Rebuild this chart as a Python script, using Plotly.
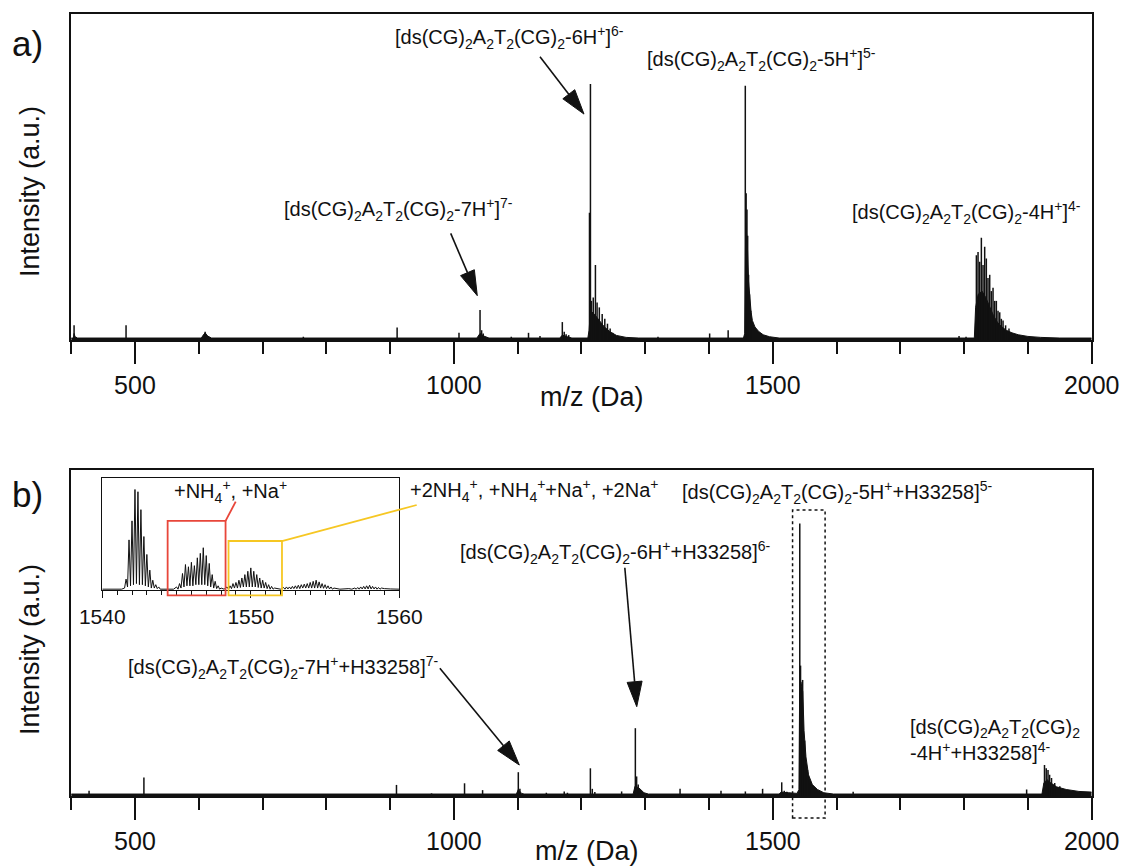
import math
import plotly.graph_objects as go

W, H = 1125, 867
FONT = "Liberation Sans, Arial, Helvetica, sans-serif"
INK = "#111111"
RED = "#e8463a"
GOLD = "#f6c723"

# ---------------- panel a: free duplex ----------------
a_stick_mz = [404.5, 486, 610, 764, 911, 1008, 1041, 1043.5, 1046, 1090, 1117, 1135,
              1170, 1173, 1176, 1180, 1212.6, 1214.1, 1215.6, 1218.5, 1221.9, 1224.5,
              1228, 1232.5, 1236.6, 1240.8, 1245, 1249, 1320, 1401, 1430, 1456.9,
              1458.2, 1459.5, 1460.6, 1462, 1463.5, 1465.5, 1792, 1803, 1819.2, 1821.8,
              1824.4, 1827, 1829.6, 1832.2, 1834.8, 1837.4, 1840.1, 1842.6, 1845.3,
              1847.9, 1850.5, 1853.1, 1855.8, 1858.3, 1861, 1865, 1870.3]
a_stick_int = [0.045, 0.045, 0.025, 0.01, 0.038, 0.022, 0.092, 0.03, 0.02, 0.01, 0.022, 0.012,
               0.055, 0.025, 0.018, 0.015, 0.39, 0.785, 0.12, 0.13, 0.23, 0.115,
               0.10, 0.08, 0.065, 0.05, 0.035, 0.022, 0.01, 0.02, 0.03, 0.78,
               0.45, 0.40, 0.32, 0.20, 0.14, 0.09, 0.012, 0.01, 0.26, 0.27,
               0.24, 0.314, 0.23, 0.286, 0.25, 0.19, 0.20, 0.15, 0.16,
               0.12, 0.12, 0.09, 0.085, 0.065, 0.06, 0.045, 0.035]

a_env_mz = [400, 403.5, 404.5, 406, 410, 604, 607, 610, 614, 620, 1036, 1041, 1047, 1055,
            1166, 1170, 1178, 1185, 1210, 1212, 1214, 1220, 1228, 1236, 1245, 1255, 1270,
            1290, 1454, 1456, 1457.5, 1460, 1462, 1464, 1466, 1468, 1472, 1478, 1485,
            1495, 1510, 1816, 1818, 1822, 1828, 1834, 1840, 1846, 1852, 1858, 1866, 1875,
            1885, 1900, 1920, 1950, 2000]
a_env_int = [0.006, 0.006, 0.02, 0.01, 0.006, 0.006, 0.015, 0.022, 0.012, 0.006, 0.006, 0.02,
             0.012, 0.006, 0.006, 0.015, 0.01, 0.006, 0.006, 0.03, 0.09, 0.08, 0.06, 0.04,
             0.025, 0.014, 0.008, 0.006, 0.006, 0.02, 0.36, 0.30, 0.18, 0.12, 0.085, 0.06,
             0.04, 0.026, 0.016, 0.01, 0.006, 0.006, 0.10, 0.14, 0.15, 0.13, 0.10, 0.075,
             0.055, 0.042, 0.03, 0.022, 0.016, 0.011, 0.008, 0.006, 0.006]

# ---------------- panel b: duplex + H33258 ----------------
b_stick_mz = [428, 514, 643, 910, 965, 1016.7, 1045, 1101, 1103.5, 1145, 1173, 1178, 1214,
              1217, 1221, 1263, 1284.5, 1286.5, 1289, 1354.6, 1418.8, 1457, 1484, 1514,
              1518, 1522, 1542.3, 1543.5, 1546.8, 1550, 1554.4, 1558, 1626, 1898, 1926,
              1928.7, 1931.5, 1934, 1937, 1942, 1950]
b_stick_int = [0.016, 0.057, 0.006, 0.034, 0.008, 0.039, 0.018, 0.073, 0.022, 0.01, 0.014,
               0.01, 0.085, 0.022, 0.012, 0.014, 0.208, 0.06, 0.035, 0.022, 0.016, 0.014,
               0.022, 0.042, 0.016, 0.013, 0.836, 0.40, 0.356, 0.17, 0.08, 0.04, 0.013,
               0.02, 0.095, 0.085, 0.08, 0.065, 0.055, 0.04, 0.03]

b_env_mz = [400, 1098, 1101, 1106, 1110, 1281, 1284, 1290, 1298, 1305, 1510, 1513, 1525,
            1538, 1541, 1542, 1544, 1547, 1549, 1552, 1556, 1562, 1570, 1580, 1595, 1922,
            1925, 1930, 1936, 1945, 1960, 1980, 2000]
b_env_int = [0.006, 0.006, 0.02, 0.008, 0.006, 0.006, 0.03, 0.025, 0.01, 0.006, 0.006,
             0.012, 0.01, 0.008, 0.02, 0.30, 0.35, 0.32, 0.20, 0.12, 0.065, 0.035, 0.02,
             0.01, 0.006, 0.006, 0.04, 0.05, 0.04, 0.028, 0.02, 0.014, 0.012]

# ---------------- inset: 5- complex isotope profile ----------------
inset_mz = [1540.0, 1541.3, 1541.5, 1541.6, 1541.7, 1541.8, 1541.9, 1542.0, 1542.1, 1542.2,
            1542.3, 1542.4, 1542.5, 1542.6, 1542.7, 1542.8, 1542.9, 1543.0, 1543.1, 1543.2,
            1543.3, 1543.4, 1543.5, 1543.6, 1543.7, 1543.8, 1543.9, 1544.8, 1545.0, 1545.1,
            1545.2, 1545.3, 1545.4, 1545.5, 1545.6, 1545.7, 1545.8, 1545.9, 1546.0, 1546.1,
            1546.2, 1546.3, 1546.4, 1546.5, 1546.6, 1546.7, 1546.8, 1546.9, 1547.0, 1547.1,
            1547.2, 1547.3, 1547.4, 1547.5, 1547.6, 1547.7, 1547.8, 1547.9, 1548.0, 1548.2,
            1548.4, 1548.5, 1548.6, 1548.7, 1548.8, 1548.9, 1549.0, 1549.1, 1549.2, 1549.3,
            1549.4, 1549.5, 1549.6, 1549.7, 1549.8, 1549.9, 1550.0, 1550.1, 1550.2, 1550.3,
            1550.4, 1550.5, 1550.6, 1550.7, 1550.8, 1550.9, 1551.0, 1551.1, 1551.2, 1551.3,
            1551.4, 1551.5, 1551.6, 1551.8, 1552.0, 1552.2, 1552.3, 1552.4, 1552.5, 1552.6,
            1552.7, 1552.8, 1552.9, 1553.0, 1553.1, 1553.2, 1553.3, 1553.4, 1553.5, 1553.6,
            1553.7, 1553.8, 1553.9, 1554.0, 1554.1, 1554.2, 1554.3, 1554.4, 1554.5, 1554.6,
            1554.7, 1554.8, 1554.9, 1555.0, 1555.1, 1555.2, 1555.3, 1555.4, 1555.5, 1555.6,
            1555.8, 1556.0, 1556.6, 1556.8, 1557.0, 1557.1, 1557.2, 1557.3, 1557.4, 1557.5,
            1557.6, 1557.7, 1557.8, 1557.9, 1558.0, 1558.1, 1558.2, 1558.3, 1558.4, 1558.5,
            1558.6, 1558.7, 1558.8, 1559.0, 1559.4, 1560.0]
inset_int = [0.01, 0.01, 0.02, 0.10, 0.03, 0.45, 0.04, 0.62, 0.05, 0.90,
             0.06, 0.88, 0.05, 0.72, 0.05, 0.48, 0.04, 0.32, 0.03, 0.18,
             0.02, 0.09, 0.02, 0.05, 0.015, 0.03, 0.01, 0.01, 0.03, 0.01,
             0.06, 0.02, 0.15, 0.03, 0.23, 0.04, 0.21, 0.04, 0.25, 0.04,
             0.22, 0.05, 0.29, 0.05, 0.33, 0.05, 0.38, 0.05, 0.31, 0.04,
             0.24, 0.03, 0.14, 0.02, 0.08, 0.015, 0.04, 0.01, 0.02, 0.01,
             0.03, 0.01, 0.04, 0.015, 0.06, 0.02, 0.07, 0.02, 0.09, 0.025,
             0.11, 0.03, 0.14, 0.03, 0.17, 0.03, 0.20, 0.03, 0.17, 0.03,
             0.14, 0.025, 0.11, 0.02, 0.09, 0.02, 0.07, 0.015, 0.05, 0.01,
             0.035, 0.01, 0.02, 0.015, 0.01, 0.025, 0.01, 0.03, 0.012, 0.03,
             0.012, 0.035, 0.015, 0.04, 0.015, 0.045, 0.015, 0.05, 0.02, 0.055,
             0.02, 0.06, 0.02, 0.07, 0.02, 0.08, 0.02, 0.09, 0.02, 0.075,
             0.02, 0.06, 0.018, 0.05, 0.015, 0.04, 0.012, 0.03, 0.01, 0.02,
             0.012, 0.01, 0.015, 0.01, 0.02, 0.01, 0.025, 0.01, 0.03, 0.012,
             0.035, 0.012, 0.04, 0.012, 0.045, 0.012, 0.035, 0.012, 0.03, 0.01,
             0.025, 0.01, 0.02, 0.015, 0.012, 0.01]

# adduct windows marked in the inset (m/z span, top intensity)
nh4_box = (1544.4, 1548.3, 0.62)
dual_box = (1548.5, 1552.1, 0.44)
# dotted window around the 5- complex in panel b (m/z span, top intensity)
zoom_box = (1531, 1582, 0.877)

# ---------------- geometry (pixels) ----------------
A_BOX = dict(x0=71.2, x1=1091.7, top=14, bottom=340)
B_BOX = dict(x0=71.2, x1=1091.7, top=470, bottom=796)
I_BOX = dict(x0=102.3, x1=399.3, top=478.3, bottom=590.3)
MAIN_XR, MAIN_YR = (400, 2000), (0, 1)
INSET_XR, INSET_YR = (1540, 1560), (0, 1)


def to_px(box, xr, yr, x, y):
    xp = box["x0"] + (x - xr[0]) / (xr[1] - xr[0]) * (box["x1"] - box["x0"])
    yp = box["bottom"] - (y - yr[0]) / (yr[1] - yr[0]) * (box["bottom"] - box["top"])
    return xp, yp


def pp(xp, yp):
    return xp / W, 1 - yp / H


def sticks(mz, inten):
    xs, ys = [], []
    for m, v in zip(mz, inten):
        xs += [m, m, None]
        ys += [0, v, None]
    return xs, ys


fig = go.Figure()
for env_mz, env_int, st_mz, st_int, xa, ya in [
    (a_env_mz, a_env_int, a_stick_mz, a_stick_int, "x", "y"),
    (b_env_mz, b_env_int, b_stick_mz, b_stick_int, "x2", "y2"),
]:
    fig.add_trace(go.Scatter(x=env_mz, y=env_int, mode="lines", fill="tozeroy",
                             fillcolor=INK, line=dict(color=INK, width=1),
                             xaxis=xa, yaxis=ya, hoverinfo="skip"))
    sx, sy = sticks(st_mz, st_int)
    fig.add_trace(go.Scatter(x=sx, y=sy, mode="lines", line=dict(color=INK, width=1.5),
                             xaxis=xa, yaxis=ya, connectgaps=False))

fig.add_trace(go.Scatter(x=inset_mz, y=inset_int, mode="lines",
                         line=dict(color=INK, width=1), xaxis="x3", yaxis="y3"))


def xaxis_style(box, xr, dtick, minor, ticklen, minorlen, tw, lw, fs):
    return dict(domain=[box["x0"] / W, box["x1"] / W], range=list(xr), automargin=False,
                showline=True, linecolor=INK, linewidth=lw, mirror=True,
                ticks="outside", tickmode="linear", tick0=0, dtick=dtick,
                ticklen=ticklen, tickwidth=tw, tickcolor=INK,
                minor=dict(ticks="outside", tickmode="linear", tick0=0, dtick=minor,
                           ticklen=minorlen, tickwidth=tw, tickcolor=INK),
                showgrid=False, zeroline=False,
                tickfont=dict(family=FONT, size=fs, color=INK))


def yaxis_style(box, yr, lw):
    return dict(domain=[1 - box["bottom"] / H, 1 - box["top"] / H], range=list(yr),
                automargin=False,
                showline=True, linecolor=INK, linewidth=lw, mirror=True,
                ticks="", showticklabels=False, showgrid=False, zeroline=False)


layout = dict(
    template="none",
    width=W, height=H, margin=dict(l=0, r=0, t=0, b=0, pad=0), autosize=False,
    paper_bgcolor="white", plot_bgcolor="white", showlegend=False,
    xaxis=dict(xaxis_style(A_BOX, MAIN_XR, 500, 100, 22, 12, 2, 1.8, 25), anchor="y"),
    yaxis=dict(yaxis_style(A_BOX, MAIN_YR, 1.8), anchor="x"),
    xaxis2=dict(xaxis_style(B_BOX, MAIN_XR, 500, 100, 22, 12, 2, 1.8, 25), anchor="y2"),
    yaxis2=dict(yaxis_style(B_BOX, MAIN_YR, 1.8), anchor="x2"),
    xaxis3=dict(xaxis_style(I_BOX, INSET_XR, 10, 1, 7, 4, 1.2, 1.2, 21), anchor="y3"),
    yaxis3=dict(yaxis_style(I_BOX, INSET_YR, 1.2), anchor="x3"),
)
fig.update_layout(**layout)

shapes = []
annotations = []


def arrow(box, tail, tip, head_len=25, head_half=7.5):
    tx, ty = to_px(box, MAIN_XR, MAIN_YR, *tail)
    hx, hy = to_px(box, MAIN_XR, MAIN_YR, *tip)
    dx, dy = hx - tx, hy - ty
    length = math.hypot(dx, dy)
    ux, uy = dx / length, dy / length
    bx, by = hx - ux * head_len, hy - uy * head_len
    nx, ny = -uy, ux
    p0 = pp(tx, ty)
    p1 = pp(bx, by)
    shapes.append(dict(type="line", xref="paper", yref="paper", x0=p0[0], y0=p0[1],
                       x1=p1[0], y1=p1[1], line=dict(color=INK, width=1.6)))
    pts = [pp(hx, hy), pp(bx + nx * head_half, by + ny * head_half),
           pp(bx - nx * head_half, by - ny * head_half)]
    path = "M{:.5f},{:.5f} L{:.5f},{:.5f} L{:.5f},{:.5f} Z".format(
        pts[0][0], pts[0][1], pts[1][0], pts[1][1], pts[2][0], pts[2][1])
    shapes.append(dict(type="path", xref="paper", yref="paper", path=path,
                       fillcolor=INK, line=dict(color=INK, width=1)))


# arrows: (m/z, intensity) of tail and tip
arrow(A_BOX, (1135, 0.869), (1204, 0.693))
arrow(A_BOX, (995, 0.327), (1036.7, 0.136))
arrow(B_BOX, (978, 0.392), (1102.6, 0.095))
arrow(B_BOX, (1268, 0.70), (1286.7, 0.274))

# dotted window in panel b, reaching down to the major tick length
zx0, zyt = to_px(B_BOX, MAIN_XR, MAIN_YR, zoom_box[0], zoom_box[2])
zx1, _ = to_px(B_BOX, MAIN_XR, MAIN_YR, zoom_box[1], 0)
zyb = B_BOX["bottom"] + 22
q0, q1 = pp(zx0, zyt), pp(zx1, zyb)
shapes.append(dict(type="rect", xref="paper", yref="paper", x0=q0[0], y0=q1[1],
                   x1=q1[0], y1=q0[1], line=dict(color=INK, width=1.5, dash="dot")))

# coloured adduct windows in the inset with leader lines to their labels
for (m0, m1, top), color, lead_to in [(nh4_box, RED, (235.7, 501.7)),
                                      (dual_box, GOLD, (416.7, 505))]:
    x0p, ytp = to_px(I_BOX, INSET_XR, INSET_YR, m0, top)
    x1p, _ = to_px(I_BOX, INSET_XR, INSET_YR, m1, 0)
    ybp = I_BOX["bottom"] + 5
    r0, r1 = pp(x0p, ytp), pp(x1p, ybp)
    shapes.append(dict(type="rect", xref="paper", yref="paper", x0=r0[0], y0=r1[1],
                       x1=r1[0], y1=r0[1], line=dict(color=color, width=1.8)))
    l0, l1 = pp(x1p, ytp), pp(*lead_to)
    shapes.append(dict(type="line", xref="paper", yref="paper", x0=l0[0], y0=l0[1],
                       x1=l1[0], y1=l1[1], line=dict(color=color, width=1.8)))


def label(text, xp, yp, size=20, xanchor="left", align="left", angle=0):
    px, py = pp(xp, yp)
    annotations.append(dict(text=text, x=px, y=py, xref="paper", yref="paper",
                            xanchor=xanchor, yanchor="middle", align=align,
                            showarrow=False, textangle=angle,
                            font=dict(family=FONT, size=size, color=INK)))


DS = "[ds(CG)<sub>2</sub>A<sub>2</sub>T<sub>2</sub>(CG)<sub>2</sub>"

label("a)", 27.5, 43, size=35, xanchor="center")
label("b)", 27.5, 494, size=35, xanchor="center")
for yc in (192, 650):
    label("Intensity (a.u.)", 30, yc, size=27, xanchor="center", align="center", angle=-90)
label("m/z (Da)", 592, 397, size=27, xanchor="center", align="center")
label("m/z (Da)", 587, 851, size=27, xanchor="center", align="center")

label(DS + "-6H<sup>+</sup>]<sup>6-</sup>", 393, 38)
label(DS + "-5H<sup>+</sup>]<sup>5-</sup>", 645, 60)
label(DS + "-7H<sup>+</sup>]<sup>7-</sup>", 282, 210)
label(DS + "-4H<sup>+</sup>]<sup>4-</sup>", 850, 212)

label(DS + "-5H<sup>+</sup>+H33258]<sup>5-</sup>", 680, 492)
label("+2NH<sub>4</sub><sup>+</sup>, +NH<sub>4</sub><sup>+</sup>+Na<sup>+</sup>, +2Na<sup>+</sup>", 408, 490)
label(DS + "-6H<sup>+</sup>+H33258]<sup>6-</sup>", 458, 552)
label(DS + "-7H<sup>+</sup>+H33258]<sup>7-</sup>", 126, 667)
label(DS + "<br>-4H<sup>+</sup>+H33258]<sup>4-</sup>", 908, 740)
label("+NH<sub>4</sub><sup>+</sup>, +Na<sup>+</sup>", 171.7, 491.7)

fig.update_layout(shapes=shapes, annotations=annotations)
fig.write_html("out.html")
